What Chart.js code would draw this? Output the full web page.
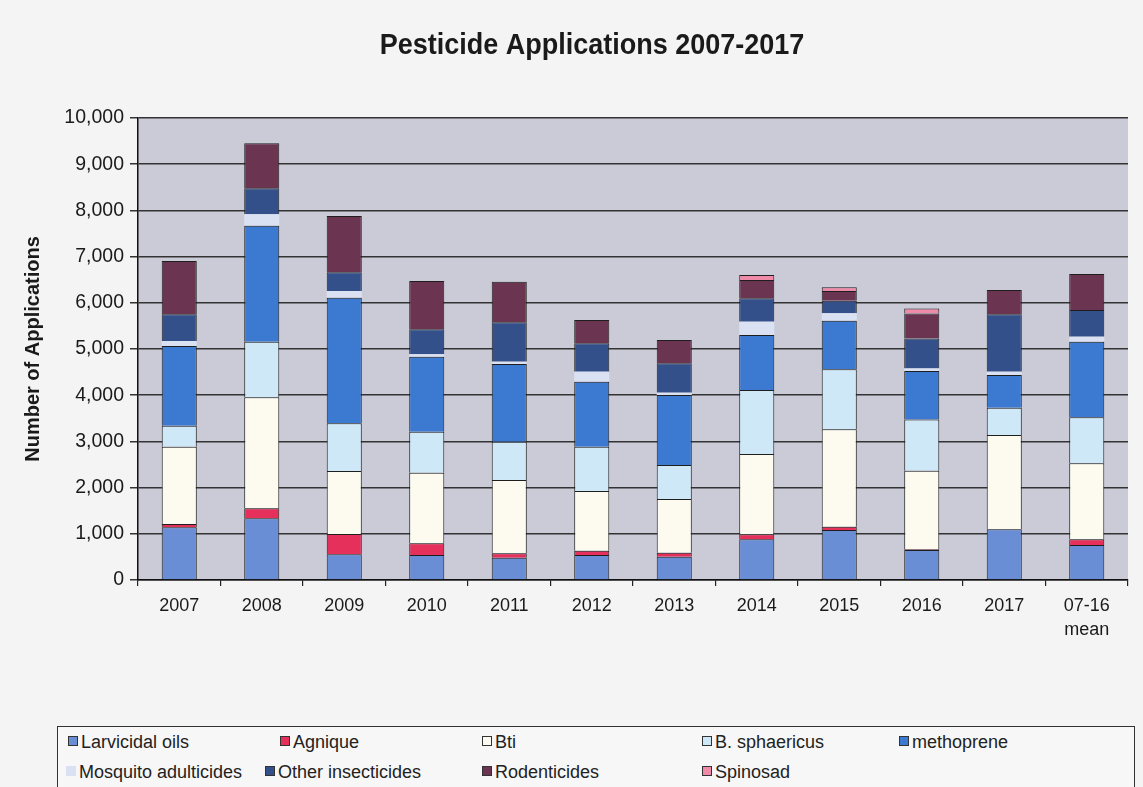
<!DOCTYPE html>
<html>
<head>
<meta charset="utf-8">
<script src="https://cdn.jsdelivr.net/npm/chart.js@4/dist/chart.umd.min.js"></script>
<style>
  html, body { margin: 0; padding: 0; background: #f4f4f4; }
  #wrap { position: relative; width: 1143px; height: 787px; overflow: hidden; }
  #c { position: absolute; left: 0; top: 0; }
  #legend { position: absolute; left: 57px; top: 726px; width: 1078px; height: 70px;
            border: 1.5px solid #333; background: #f7f7f7; box-sizing: border-box;
            font-family: "Liberation Sans", Arial, sans-serif;
            font-size: 18px; color: #222; }
  .li { position: absolute; white-space: nowrap; line-height: 20px; }
  .sw { display: inline-block; width: 8px; height: 8px; border: 1px solid #333;
        margin-right: 3px; vertical-align: 2px; }
</style>
</head>
<body>
<div id="wrap">
  <canvas id="c" width="1143" height="787"></canvas>
  <div id="legend"></div>
</div>
<script>
const categories = ['2007','2008','2009','2010','2011','2012','2013','2014','2015','2016','2017',['07-16','mean']];
const larvicidalOils      = [1140,1335, 556, 541, 483, 541, 505, 880,1082, 649,1097, 758];
const agnique             = [  70, 216, 440, 253,  94,  94,  87, 108,  72,  15,   0, 122];
const bti                 = [1676,2403,1363,1529,1588,1291,1161,1739,2107,1700,2042,1645];
const bSphaericus         = [ 454,1205,1032, 888, 829, 960, 736,1386,1299,1111, 591, 996];
const methoprene          = [1725,2511,2720,1623,1681,1407,1515,1190,1053,1047, 707,1638];
const mosquitoAdulticides = [ 108, 245, 144,  51,  51, 216,  51, 289, 159,  58,  72, 108];
const otherInsecticides   = [ 577, 563, 404, 541, 851, 614, 635, 505, 274, 649,1241, 577];
const rodenticides        = [1155, 974,1220,1046, 880, 505, 505, 397, 209, 541, 527, 779];
const spinosad            = [   0,   0,   0,   0,   0,   0,   0, 108,  80, 108,   0,   0];
const yTicks = [0,1000,2000,3000,4000,5000,6000,7000,8000,9000,10000];

const seriesNames = ['Larvicidal oils','Agnique','Bti','B. sphaericus','methoprene',
  'Mosquito adulticides','Other insecticides','Rodenticides','Spinosad'];
const seriesData = [larvicidalOils, agnique, bti, bSphaericus, methoprene,
  mosquitoAdulticides, otherInsecticides, rodenticides, spinosad];
const colors = ['#6a8ed6','#e5305b','#fdfbef','#cfe8f7','#3b7ad0','#d9e1f2','#33508a','#6b3451','#f08aa9'];

const datasets = seriesNames.map((n, i) => ({
  label: n,
  data: seriesData[i],
  backgroundColor: colors[i],
  borderColor: '#1e1e1e',
  borderWidth: i === 5 ? 0 : 1,
  barPercentage: 0.425,
  categoryPercentage: 1.0
}));

const bgPlugin = {
  id: 'plotBg',
  beforeDraw(chart) {
    const a = chart.chartArea, ctx = chart.ctx;
    ctx.save();
    ctx.fillStyle = '#cacbd7';
    ctx.fillRect(a.left, a.top, a.right - a.left, a.bottom - a.top);
    ctx.restore();
  }
};
const titlePlugin = {
  id: 'customTitle',
  afterDraw(chart) {
    const ctx = chart.ctx;
    ctx.save();
    ctx.translate(592, 46);
    ctx.scale(0.9, 1);
    ctx.font = 'bold 30px "Liberation Sans", Arial, sans-serif';
    ctx.fillStyle = '#1a1a1a';
    ctx.textAlign = 'center';
    ctx.textBaseline = 'middle';
    ctx.fillText('Pesticide Applications 2007-2017', 0, 0);
    ctx.restore();
  }
};

new Chart(document.getElementById('c'), {
  type: 'bar',
  data: { labels: categories, datasets },
  plugins: [bgPlugin, titlePlugin],
  options: {
    responsive: false,
    animation: false,
    layout: { padding: { left: 15, right: 15, top: 118, bottom: 147 } },
    plugins: { legend: { display: false }, tooltip: { enabled: false }, title: { display: false } },
    scales: {
      x: {
        stacked: true,
        afterFit(s) { s.height = 60; },
        grid: { offset: true, drawOnChartArea: false, drawTicks: true, tickLength: 6, color: '#222', lineWidth: 1.2 },
        border: { display: true, color: '#111', width: 1.5 },
        ticks: { color: '#1a1a1a', padding: 8,
                 font: { family: '"Liberation Sans", Arial, sans-serif', size: 18, lineHeight: 1.35 } }
      },
      y: {
        stacked: true,
        min: 0, max: 10000,
        afterFit(s) { s.width = 123; },
        afterBuildTicks(s) { s.ticks = yTicks.map(v => ({ value: v })); },
        grid: { color: '#333', lineWidth: 1.5, tickLength: 8 },
        border: { display: true, color: '#111', width: 1.5 },
        ticks: { color: '#1a1a1a', padding: 6,
                 font: { family: '"Liberation Sans", Arial, sans-serif', size: 19.5 },
                 callback: v => v.toLocaleString('en-US') },
        title: { display: true, text: 'Number of Applications', color: '#1a1a1a',
                 font: { family: '"Liberation Sans", Arial, sans-serif', size: 20, weight: 'bold' },
                 padding: { top: 6, bottom: 0 } }
      }
    }
  }
});

// Legend (HTML, built from series names and colours)
const legendPos = [[10,5],[222,5],[424,5],[644,5],[841,5],[8,35],[207,35],[424,35],[644,35]];
const lg = document.getElementById('legend');
seriesNames.forEach((n, i) => {
  const d = document.createElement('div');
  d.className = 'li';
  d.style.left = legendPos[i][0] + 'px';
  d.style.top = legendPos[i][1] + 'px';
  const sw = document.createElement('span');
  sw.className = 'sw';
  sw.style.background = colors[i];
  if (i === 5) sw.style.borderColor = 'transparent';
  d.appendChild(sw);
  d.appendChild(document.createTextNode(n));
  lg.appendChild(d);
});
</script>
</body>
</html>
